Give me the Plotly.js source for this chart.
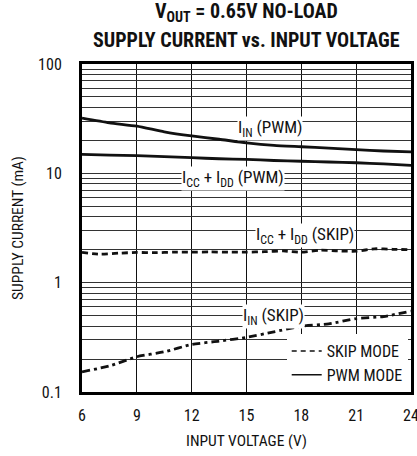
<!DOCTYPE html>
<html>
<head>
<meta charset="utf-8">
<script src="https://cdn.plot.ly/plotly-3.0.1.min.js"></script>
<style>html,body{margin:0;padding:0;background:#fff;}#chart{width:417px;height:456px;}</style>
</head>
<body>
<div id="chart"></div>
<script>
const vin = [6, 7.5, 9, 10.5, 12, 13.5, 15, 16.5, 18, 19.5, 21, 22.5, 24];
const iinPwm = [32, 29, 27, 24, 22, 20.5, 19, 18, 17.5, 17, 16.5, 16, 15.7];
const iccPwm = [14.9, 14.7, 14.5, 14.2, 13.9, 13.6, 13.4, 13.1, 12.9, 12.7, 12.5, 12.2, 11.8];
const vinSkip = [6, 7, 8, 9, 10, 11, 12, 13, 14, 15, 16, 17, 18, 19, 20, 21, 22, 23, 24];
const iccSkip = [1.89, 1.82, 1.86, 1.89, 1.88, 1.9, 1.9, 1.91, 1.9, 1.9, 1.92, 1.95, 1.9, 1.98, 1.95, 1.94, 2.04, 2.02, 2.0];
const iinSkip = [0.153, 0.173, 0.21, 0.233, 0.272, 0.292, 0.316, 0.355, 0.40, 0.42, 0.47, 0.49, 0.55];
const yTickVals = [0.1,0.2,0.3,0.4,0.5,0.6,0.7,0.8,0.9,1,2,3,4,5,6,7,8,9,10,20,30,40,50,60,70,80,90,100];
const yTickText = yTickVals.map(v => ([0.1,1,10,100].includes(v) ? String(v) : ''));
const xTickVals = [6, 9, 12, 15, 18, 21, 24];

const FONT = '"Roboto Condensed", Roboto, sans-serif';
const lineStyle = (dash) => ({color: '#111', width: 2.8, dash: dash, shape: 'spline', smoothing: 0.6});

const traces = [
  {x: vin, y: iinPwm, mode: 'lines', line: lineStyle('solid'), showlegend: false},
  {x: vin, y: iccPwm, mode: 'lines', line: lineStyle('solid'), showlegend: false},
  {x: vinSkip, y: iccSkip, mode: 'lines', line: lineStyle('6px,4px'), showlegend: false},
  {x: vin, y: iinSkip, mode: 'lines', line: lineStyle('8px,4px,3px,4px'), showlegend: false},
  {x: [null], y: [null], mode: 'lines', name: 'SKIP MODE', line: {color: '#111', width: 1.5, dash: '5px,4px'}},
  {x: [null], y: [null], mode: 'lines', name: 'PWM MODE', line: {color: '#111', width: 1.5}}
];

const labelFont = {family: FONT, size: 17, color: '#111'};
const mkLabel = (x, y, text) => ({x: x, y: y, xref: 'x', yref: 'y', text: text, showarrow: false,
  font: labelFont, bgcolor: '#fff', borderpad: 0, xanchor: 'center', yanchor: 'middle'});
const titleFont = {family: FONT, size: 20, color: '#111', weight: 'bold'};
const mkTitle = (y, text) => ({x: 0.5, y: y, xref: 'paper', yref: 'paper', text: '<b>' + text + '</b>',
  showarrow: false, font: titleFont, xanchor: 'center', yanchor: 'middle'});
const axisTitleFont = {family: FONT, size: 15.5, color: '#111'};

const layout = {
  width: 417, height: 456,
  margin: {l: 82, r: 6, t: 64, b: 64},
  paper_bgcolor: '#fff', plot_bgcolor: '#fff',
  font: {family: FONT, size: 14, color: '#111'},
  xaxis: {
    range: [6, 24], tickvals: xTickVals, ticks: '', showgrid: true, gridcolor: '#111', gridwidth: 1,
    zeroline: false, showline: true, mirror: true, linecolor: '#000', linewidth: 3,
    ticklabeloverflow: 'allow', ticklabelstandoff: 7,
    tickfont: {family: FONT, size: 16, color: '#111'}
  },
  yaxis: {
    type: 'log', range: [-1, 2], tickvals: yTickVals, ticktext: yTickText, ticks: '',
    showgrid: true, gridcolor: '#333', gridwidth: 1, zeroline: false,
    showline: true, mirror: true, linecolor: '#000', linewidth: 3, ticklabelstandoff: 14,
    tickfont: {family: FONT, size: 16, color: '#111'}
  },
  legend: {
    x: 0.99, y: 0.0, xanchor: 'right', yanchor: 'bottom', bgcolor: '#fff',
    font: {family: FONT, size: 16, color: '#111'}, tracegroupgap: 0
  },
  annotations: [
    mkTitle(1.1585, 'V<sub>OUT</sub> = 0.65V NO-LOAD'),
    mkTitle(1.073, 'SUPPLY CURRENT vs. INPUT VOLTAGE'),
    {x: -0.1945, y: 0.5, xref: 'paper', yref: 'paper', text: 'SUPPLY CURRENT (mA)', textangle: -90,
     showarrow: false, font: axisTitleFont, xanchor: 'center', yanchor: 'middle'},
    {x: 0.5, y: -0.149, xref: 'paper', yref: 'paper', text: 'INPUT VOLTAGE (V)',
     showarrow: false, font: axisTitleFont, xanchor: 'center', yanchor: 'middle'},
    mkLabel(16.3, 1.411, 'I<sub>IN</sub> (PWM)'),
    mkLabel(14.26, 0.954, 'I<sub>CC</sub> + I<sub>DD</sub> (PWM)'),
    mkLabel(18.2, 0.434, 'I<sub>CC</sub> + I<sub>DD</sub> (SKIP)'),
    mkLabel(16.45, -0.306, 'I<sub>IN</sub> (SKIP)')
  ]
};

Plotly.newPlot('chart', traces, layout, {staticPlot: true, displayModeBar: false});
</script>
</body>
</html>
